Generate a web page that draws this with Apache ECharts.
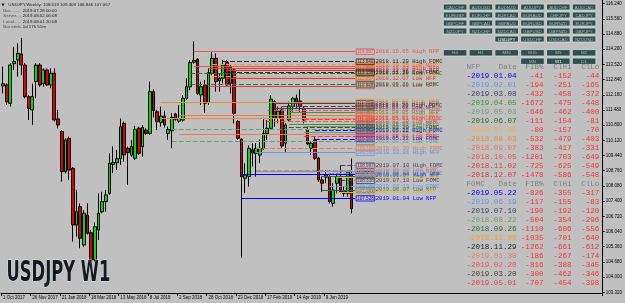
<!DOCTYPE html>
<html>
<head>
<meta charset="utf-8">
<script src="https://cdn.jsdelivr.net/npm/echarts@6/dist/echarts.min.js"></script>
<style>
html, body { margin: 0; padding: 0; background: #c0c0c0; }
#main { width: 625px; height: 303px; }
</style>
</head>
<body>
<div id="main"></div>
<script>
// weekly bars, 1 Oct 2017 .. 28 Jul 2019
var OPEN = [112.55,112.60,111.78,113.55,113.72,113.98,113.49,112.07,111.48,112.75,
    113.49,112.67,113.27,112.60,113.12,111.08,110.51,108.72,110.21,108.87,
    106.33,107.15,105.44,106.78,105.99,104.77,106.11,106.93,107.38,107.75,
    109.04,109.12,109.30,110.88,109.76,109.46,109.32,110.66,109.84,110.58,
    110.43,112.30,111.40,110.92,111.20,110.43,110.55,111.30,110.98,111.03,
    112.00,112.52,113.62,113.74,112.15,112.60,111.81,113.12,113.79,112.79,
    112.90,113.60,112.67,113.27,110.96,110.18,108.42,108.50,109.70,109.54,
    109.46,109.76,110.43,110.66,111.85,111.10,111.48,109.99,111.03,111.63,
    112.00,111.88,111.55,110.61,109.76,110.14,109.32,108.35,108.47,108.50,
    107.30,108.20,108.42,107.87,107.75,108.62];
var HIGH = [113.42,112.67,113.57,114.31,114.46,114.70,113.57,112.15,112.67,113.57,
    113.57,113.34,113.34,113.34,113.34,111.48,110.58,110.21,110.29,108.92,
    107.90,107.30,107.00,107.30,106.11,106.45,107.75,107.82,107.90,109.54,
    109.85,109.69,111.10,110.96,109.84,110.14,110.76,110.73,110.81,110.66,
    112.75,112.40,111.48,111.63,111.45,110.73,111.33,111.35,111.70,112.15,
    112.90,113.72,114.55,113.80,112.75,112.82,113.34,114.09,114.01,113.12,
    113.72,113.72,113.49,113.34,111.03,110.20,109.09,109.90,109.99,110.00,
    110.16,111.13,111.03,112.15,111.93,111.63,111.63,110.88,111.85,112.07,
    112.17,112.40,111.63,110.73,110.06,110.29,109.39,108.50,108.80,108.64,
    108.20,108.64,109.00,108.05,108.79,109.31];
var LOW = [112.22,111.70,111.63,113.27,112.97,113.04,112.00,111.03,110.81,112.00,
    112.52,112.52,112.55,112.45,110.96,110.66,108.27,108.64,108.35,105.59,
    105.81,105.29,105.36,105.90,104.65,104.70,105.66,106.85,106.93,107.68,
    108.65,108.79,109.02,109.17,108.12,109.39,109.24,109.47,109.39,110.36,
    110.36,111.15,110.58,110.73,110.70,110.14,109.77,111.00,110.90,110.96,
    111.93,112.37,113.55,112.15,111.70,111.35,111.70,113.04,112.30,112.30,
    112.67,112.52,112.22,110.88,110.14,104.87,107.75,108.05,108.95,108.50,
    109.10,109.69,110.14,110.58,110.73,110.88,109.76,109.61,110.96,111.40,
    111.55,111.35,110.88,109.90,109.46,109.24,108.27,107.82,108.20,107.30,
    107.15,107.75,107.75,107.60,107.60,106.85];
var CLOSE = [112.65,111.85,113.49,113.65,114.01,113.49,112.07,111.55,112.07,113.49,
    112.60,113.27,112.60,113.12,111.03,110.81,108.72,110.14,108.79,106.33,
    106.93,105.74,106.86,105.96,104.77,106.26,106.86,107.38,107.68,109.09,
    109.13,109.30,110.73,109.47,109.57,109.84,110.61,109.54,110.70,110.43,
    112.30,111.45,110.96,111.21,110.81,110.61,111.15,111.06,111.10,112.00,
    112.52,113.60,113.70,112.22,112.52,111.78,113.15,113.79,112.75,112.90,
    113.49,112.60,113.39,111.33,110.21,108.50,108.57,109.76,109.55,109.76,
    109.76,110.43,110.66,111.96,111.10,111.43,109.87,110.81,111.66,112.00,
    111.85,111.63,111.03,109.96,109.99,109.32,108.35,108.20,108.57,107.38,
    107.90,108.50,107.82,107.75,108.72,107.067];

var SLOTS = 164;          // visible bar slots incl. empty right side
var LINE_END = 96;        // level lines stop here
var X_LABELS = ['1 Oct 2017','26 Nov 2017','21 Jan 2018','18 Mar 2018','13 May 2018','8 Jul 2018',
    '2 Sep 2018','28 Oct 2018','23 Dec 2018','17 Feb 2019','14 Apr 2019','9 Jun 2019'];
var Y_TICKS = [103.32,104.00,104.68,105.36,106.04,106.72,107.40,108.08,108.76,109.44,
    110.12,110.80,111.48,112.16,112.84,113.52,114.20,114.88,115.56,116.24];
var BID = 107.067;

// news events (table order): NFP then FOMC
var EV_DATE = ['2019.01.04','2019.02.01','2019.03.08','2019.04.05','2019.05.03','2019.06.07',
    '2019.07.05','2018.08.03','2018.09.07','2018.10.05','2018.11.02','2018.12.07',
    '2019.05.22','2019.06.19','2019.07.10','2018.08.22','2018.09.26','2018.11.08',
    '2018.11.29','2019.01.30','2019.02.20','2019.03.20','2019.05.01'];
var EV_KIND = ['NFP','NFP','NFP','NFP','NFP','NFP','NFP','NFP','NFP','NFP','NFP','NFP',
    'FOMC','FOMC','FOMC','FOMC','FOMC','FOMC','FOMC','FOMC','FOMC','FOMC','FOMC'];
var EV_START = [65,69,74,78,82,87,91,43,48,52,56,61, 85,89,92,46,51,57,60,69,72,76,82];
var EV_COLOR = ['#0000ff','#6495ed','#404070','#3a9a3a','#6e9e6e','#2e6e2e',
    '#f0b040','#f08c28','#f07850','#f05050','#e83c3c','#e03050',
    '#0000ff','#6495ed','#404070','#6e9e6e','#2e6e2e','#f0a030',
    '#282828','#f07850','#f05050','#504040','#e83c50'];
var EV_HIGH = [108.602,109.568,111.778,111.367,110.763,108.526,108.459,111.837,111.233,114.087,113.344,113.246,
    110.561,108.647,108.987,110.615,113.112,113.514,113.640,109.765,111.479,111.658,111.076];
var EV_LOW = [107.528,108.727,111.568,110.852,110.494,107.899,107.810,111.121,110.391,113.447,112.552,112.897,
    110.181,108.056,108.316,110.060,112.628,113.000,113.156,108.794,110.955,110.696,110.293];
var EV_FIB = [-41,-194,-432,-1672,-646,-111,-80,-532,-383,-1201,-725,-1478,
    -826,-117,-190,-504,-1110,-1035,-1262,-186,-816,-300,-707];
var EV_CLHI = [-152,-251,-458,-475,-462,-154,-157,-479,-417,-703,-625,-586,
    -355,-155,-192,-354,-606,-701,-661,-267,-388,-462,-454];
var EV_CLLO = [-44,-165,-372,-448,-400,-81,-70,-403,-331,-649,-549,-548,
    -317,-83,-120,-296,-556,-640,-612,-174,-345,-346,-398];

var SYMBOLS = [
    ['CADCHF','AUDUSD','AUDNZD','AUDJPY','AUDCHF','AUDCAD'],
    ['EURGBP','EURCHF','EURCAD','EURAUD','CHFJPY','CADJPY'],
    ['GBPCHF','GBPCAD','GBPAUD','EURUSD','EURNZD','EURJPY'],
    ['NZDJPY','NZDCHF','NZDCAD','GBPUSD','GBPNZD','GBPJPY'],
    ['','','USDJPY','USDCHF','USDCAD','NZDUSD']
];
var TIMEFRAMES = [
    ['H4','H1','M30','M15','M5','M1'],
    ['','','','MN','W1','D1']
];
var INFO_HEAD = 'USDJPY,Weekly: 108.619 109.309 106.846 107.067';
var INFO_KEYS = ['Bar........','Server.....','Local......','Bar ends...'];
var INFO_VALS = ['2019.07.28 00:00','2019.08.02 06:08','2019.08.01 20:08','1d 17h 51m'];

var chart = echarts.init(document.getElementById('main'));

function makeCategories() {
    var cats = [];
    for (var i = 0; i < SLOTS; i++) cats.push('w' + i);
    return cats;
}

function makeCandles() {
    return OPEN.map(function (o, i) {
        return [o, CLOSE[i], LOW[i], HIGH[i]];
    });
}

function makeLevels() {
    var out = [];
    for (var e = 0; e < EV_DATE.length; e++) {
        ['High', 'Low'].forEach(function (side) {
            var price = side === 'High' ? EV_HIGH[e] : EV_LOW[e];
            var col = EV_COLOR[e];
            out.push([{
                coord: [EV_START[e], price],
                lineStyle: {color: col, width: 1, type: EV_KIND[e] === 'FOMC' ? [5, 2] : 'solid'},
                label: {
                    show: true,
                    position: 'end',
                    distance: 1,
                    formatter: '{p|' + price.toFixed(3) + '}{t|' + EV_DATE[e] + ' ' + side + ' ' + EV_KIND[e] + '}',
                    rich: {
                        p: {fontSize: 4.6, fontFamily: 'Liberation Sans', color: col,
                            borderColor: col, borderWidth: 0.8, padding: [0.5, 1, 0, 1]},
                        t: {fontSize: 5.6, fontFamily: 'Liberation Mono', color: col, padding: [0, 0, 0, 1]}
                    }
                }
            }, {coord: [LINE_END, price]}]);
        });
    }
    // bid price marker on the price scale
    out.push({
        yAxis: BID,
        lineStyle: {opacity: 0},
        label: {show: true, position: 'end', distance: 0, formatter: BID.toFixed(3),
            backgroundColor: '#000', color: '#fff', fontSize: 4.6, padding: [1.5, 1.5, 1, 1.5],
            fontFamily: 'Liberation Sans'}
    });
    return out;
}

function makeGraphics() {
    var g = [];
    // top-left info
    g.push({type: 'text', x: 1.5, y: 5, style: {text: '\u25BC', font: '4px "DejaVu Sans"', fill: '#202020', verticalAlign: 'middle'}});
    g.push({type: 'text', x: 8.3, y: 5, style: {text: INFO_HEAD, font: '4.4px "Liberation Sans"', fill: '#202020', verticalAlign: 'middle'}});
    INFO_KEYS.forEach(function (k, i) {
        var y = 10.8 + i * 5.4;
        g.push({type: 'text', x: 3.3, y: y, style: {text: k, font: '4.4px "Liberation Sans"', fill: '#505050', verticalAlign: 'middle'}});
        g.push({type: 'text', x: 22.7, y: y, style: {text: INFO_VALS[i], font: '4.4px "Liberation Sans"', fill: '#202020', verticalAlign: 'middle'}});
    });

    // buttons
    function button(col, y, h, label, active) {
        var x = 443.3 + col * 25.8;
        g.push({type: 'rect', shape: {x: x, y: y, width: 23.6, height: h},
            style: {fill: '#2f4f4f', stroke: '#d8dede', lineWidth: 0.8}});
        g.push({type: 'text', x: x + 11.8, y: y + h / 2 + 0.3,
            style: {text: label, font: '4.4px "Liberation Sans"', fill: active ? '#ffffff' : '#a8b8b8',
                align: 'center', verticalAlign: 'middle'}});
    }
    SYMBOLS.forEach(function (row, r) {
        row.forEach(function (s, c) {
            if (s) button(c, 4 + r * 8, 6, s, s === 'USDJPY');
        });
    });
    TIMEFRAMES.forEach(function (row, r) {
        row.forEach(function (s, c) {
            if (s) button(c, 49.6 + r * 8.4, 6.4, s, s === 'W1');
        });
    });

    // news table
    var font = '7.6px "Liberation Mono"';
    function cell(x, y, text, color, align) {
        g.push({type: 'text', x: x, y: y, style: {text: text, font: font, fill: color,
            align: align, verticalAlign: 'middle'}});
    }
    function header(y, name) {
        cell(466.5, y, name, '#808080', 'left');
        cell(516.8, y, 'Date', '#808080', 'right');
        cell(543.6, y, 'FIB%', '#808080', 'right');
        cell(571.6, y, 'ClHi', '#808080', 'right');
        cell(599.4, y, 'ClLo', '#808080', 'right');
    }
    header(67.3, 'NFP');
    header(184.3, 'FOMC');
    for (var e = 0; e < EV_DATE.length; e++) {
        var y = e < 12 ? 76.3 + e * 9 : 193.3 + (e - 12) * 9;
        cell(466.5, y, '-' + EV_DATE[e], EV_COLOR[e], 'left');
        cell(543.6, y, String(EV_FIB[e]), '#ff3030', 'right');
        cell(571.6, y, String(EV_CLHI[e]), '#ff3030', 'right');
        cell(599.4, y, String(EV_CLLO[e]), '#ff3030', 'right');
    }

    // big symbol caption
    g.push({type: 'text', x: 6.5, y: 273.8, scaleX: 0.585, z: 10,
        style: {text: 'USDJPY W1', x: 0, y: 0, font: 'bold 28px "DejaVu Sans"',
            fill: '#151a22', stroke: '#e6e6e6', lineWidth: 1, verticalAlign: 'middle'}});
    return g;
}

function makeOption() {
    return {
        animation: false,
        backgroundColor: '#c0c0c0',
        grid: {left: 0, right: 21, top: 0, bottom: 10},
        xAxis: {
            type: 'category',
            data: makeCategories(),
            boundaryGap: true,
            axisLine: {show: true, lineStyle: {color: '#000', width: 1}},
            axisTick: {show: true, length: 3, lineStyle: {color: '#000'},
                interval: function (i) { return i % 8 === 0 && i / 8 < X_LABELS.length; }},
            axisLabel: {
                interval: function (i) { return i % 8 === 0 && i / 8 < X_LABELS.length; },
                formatter: function (v, i) { return X_LABELS[i / 8] || ''; },
                fontSize: 4.5, fontFamily: 'Liberation Sans', color: '#000', align: 'left', margin: 2
            },
            splitLine: {show: false}
        },
        yAxis: {
            type: 'value',
            position: 'right',
            min: 103.29,
            max: 116.40,
            axisLine: {show: true, lineStyle: {color: '#000', width: 1}},
            axisTick: {show: true, length: 2, lineStyle: {color: '#000'}, customValues: Y_TICKS},
            axisLabel: {customValues: Y_TICKS, formatter: function (v) { return v.toFixed(3); },
                fontSize: 4.5, fontFamily: 'Liberation Sans', color: '#000', margin: 3},
            splitLine: {show: false}
        },
        series: [{
            type: 'candlestick',
            data: makeCandles(),
            barWidth: 3.2,
            silent: true,
            itemStyle: {color: '#00e000', color0: '#e00000', borderColor: '#000', borderColor0: '#000', borderWidth: 1},
            markLine: {
                silent: true,
                symbol: ['none', 'none'],
                animation: false,
                data: makeLevels()
            }
        }],
        graphic: makeGraphics()
    };
}

chart.setOption(makeOption());
</script>
</body>
</html>
